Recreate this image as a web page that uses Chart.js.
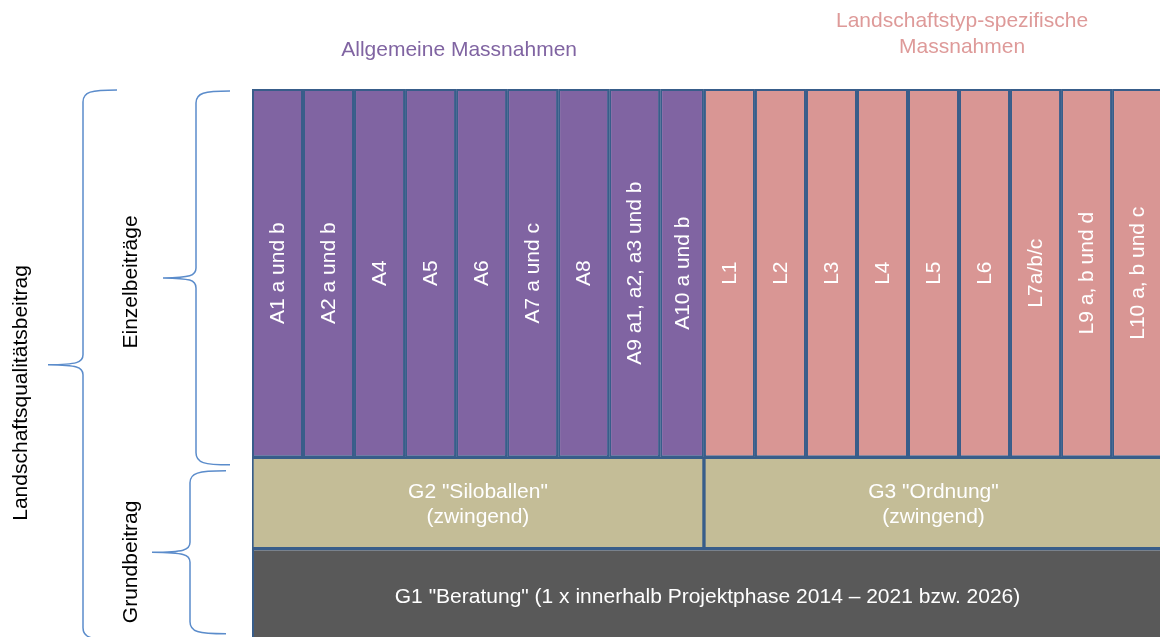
<!DOCTYPE html>
<html><head><meta charset="utf-8">
<script src="https://cdn.jsdelivr.net/npm/chart.js@4.4.1/dist/chart.umd.min.js"></script>
<style>html,body{margin:0;padding:0;background:#fff;overflow:hidden}</style>
</head><body>
<canvas id="c" width="1160" height="637"></canvas>
<script>
// ---- data (column spans in "column units", row bands in "row units") ----
const allgemeineLabels = ['A1 a und b','A2 a und b','A4','A5','A6','A7 a und c','A8','A9 a1, a2, a3 und b','A10 a und b'];
const allgemeineWidths = [1,1,1,1,1,1,1,1,0.86];
const spezifischeLabels = ['L1','L2','L3','L4','L5','L6','L7a/b/c','L9 a, b und d','L10 a, b und c'];
const spezifischeWidths = [1,1,1,1,1,1,1,1,1];
const grundLabels = ['G2 "Siloballen"\n(zwingend)', 'G3 "Ordnung"\n(zwingend)'];
const beratungLabel = 'G1 "Beratung" (1 x innerhalb Projektphase 2014 – 2021 bzw. 2026)';
const groupTitles = ['Allgemeine Massnahmen', 'Landschaftstyp-spezifische\nMassnahmen'];
const sideLabels = ['Landschaftsqualitätsbeitrag', 'Einzelbeiträge', 'Grundbeitrag'];
const bandG1 = [-0.06, 1];
const bandG2 = [1, 2];
const bandCols = [2, 6.04];

// ---- derived ----
const colLabels = allgemeineLabels.concat(spezifischeLabels);
const colWidths = allgemeineWidths.concat(spezifischeWidths);
const colSpans = [];
let acc = 0;
colWidths.forEach(w => { colSpans.push([acc, acc + w]); acc += w; });
const endA = allgemeineWidths.reduce((a, b) => a + b, 0);
const endAll = acc;
const mid = b => (b[0] + b[1]) / 2;
const span = b => b[1] - b[0];

const PURPLE = '#8064A2', PINK = '#D99694', KHAKI = '#C4BD97', GREY = '#595959', EDGE = '#385D8A';
const FONT = '21px "Liberation Sans", Arial, sans-serif';

const textPlugin = {
  id: 'texts',
  afterDatasetsDraw(chart, args, o) {
    const ctx = chart.ctx;
    const xs = chart.scales.x, ys = chart.scales.y;
    const left = chart.chartArea.left;
    ctx.save();
    ctx.font = FONT;
    ctx.textAlign = 'center';
    ctx.textBaseline = 'middle';
    // column labels
    ctx.fillStyle = '#ffffff';
    chart.getDatasetMeta(0).data.forEach((bar, i) => {
      const p = bar.getProps(['x', 'y', 'base'], true);
      ctx.save();
      ctx.translate((p.x + p.base) / 2 + 1, p.y);
      ctx.rotate(-Math.PI / 2);
      ctx.fillText(colLabels[i], 0, 0);
      ctx.restore();
    });
    const multi = (txt, cx, cy, lh) => {
      const lines = txt.split('\n');
      lines.forEach((l, k) => ctx.fillText(l, cx, cy + (k - (lines.length - 1) / 2) * lh));
    };
    chart.getDatasetMeta(1).data.forEach((bar, i) => {
      const p = bar.getProps(['x', 'y', 'base'], true);
      multi(grundLabels[i], (p.x + p.base) / 2, p.y + 2, 25);
    });
    chart.getDatasetMeta(2).data.forEach((bar) => {
      const p = bar.getProps(['x', 'y', 'base'], true);
      const cx = (Math.max(p.base, left) + xs.getPixelForValue(endAll)) / 2;
      ctx.fillText(beratungLabel, cx, p.y);
    });
    // group titles
    ctx.fillStyle = PURPLE;
    multi(groupTitles[0], xs.getPixelForValue(o.title1[0]), ys.getPixelForValue(o.title1[1]), 26);
    ctx.fillStyle = '#DE9A99';
    multi(groupTitles[1], xs.getPixelForValue(o.title2[0]), ys.getPixelForValue(o.title2[1]), 26);
    // braces
    ctx.strokeStyle = '#5B8CCB';
    ctx.lineWidth = 1.5;
    o.braces.forEach(b => {
      const xv = b.xv, xr = b.xr, xt = b.xt;
      const yT = ys.getPixelForValue(b.top), yB = ys.getPixelForValue(b.bottom);
      const yM = (yT + yB) / 2;
      ctx.beginPath();
      ctx.moveTo(xr, yT);
      ctx.bezierCurveTo(xv + 8, yT, xv, yT + 2, xv, yT + 12);
      ctx.lineTo(xv, yM - 10);
      ctx.bezierCurveTo(xv, yM - 2, xv - 6, yM - 0.5, xt, yM);
      ctx.bezierCurveTo(xv - 6, yM + 0.5, xv, yM + 2, xv, yM + 10);
      ctx.lineTo(xv, yB - 12);
      ctx.bezierCurveTo(xv, yB - 2, xv + 8, yB, xr, yB);
      ctx.stroke();
    });
    // side labels
    ctx.fillStyle = '#000000';
    o.side.forEach((s, i) => {
      ctx.save();
      ctx.translate(s[0], ys.getPixelForValue(s[1]));
      ctx.rotate(-Math.PI / 2);
      ctx.fillText(sideLabels[i], 0, 0);
      ctx.restore();
    });
    ctx.restore();
  }
};

const common = { indexAxis: 'y', grouped: false, categoryPercentage: 1, borderSkipped: false, borderWidth: 2, borderColor: EDGE };

new Chart(document.getElementById('c'), {
  type: 'bar',
  data: {
    datasets: [
      Object.assign({}, common, {
        label: 'Einzelbeiträge',
        data: colSpans.map(s => ({ x: s, y: mid(bandCols) })),
        backgroundColor: colSpans.map((s, i) => i < allgemeineLabels.length ? PURPLE : PINK),
        barPercentage: span(bandCols)
      }),
      Object.assign({}, common, {
        label: 'Grundbeitrag G2/G3',
        data: [{ x: [0, endA], y: mid(bandG2) }, { x: [endA, endAll], y: mid(bandG2) }],
        backgroundColor: KHAKI,
        barPercentage: span(bandG2)
      }),
      Object.assign({}, common, {
        label: 'Grundbeitrag G1',
        data: [{ x: [0, endAll], y: mid(bandG1) }],
        backgroundColor: GREY,
        barPercentage: span(bandG1)
      })
    ]
  },
  options: {
    indexAxis: 'y',
    responsive: false,
    devicePixelRatio: 1,
    animation: false,
    layout: { padding: { left: 252, top: 89, right: 0, bottom: 0 } },
    scales: {
      x: { type: 'linear', min: 0, max: 17.8, offset: false, display: false },
      y: { type: 'linear', min: 0.03, max: 6.04, offset: false, display: false, grid: { offset: false }, ticks: { stepSize: 1, includeBounds: false } }
    },
    plugins: {
      legend: { display: false },
      tooltip: { enabled: false },
      texts: {
        title1: [4.06, 6.468],
        title2: [13.92, 6.644],
        braces: [
          { xv: 83, xr: 117, xt: 48, top: 6.03, bottom: 0 },
          { xv: 196, xr: 230, xt: 163, top: 6.019, bottom: 1.918 },
          { xv: 190, xr: 226, xt: 152, top: 1.852, bottom: 0.065 }
        ],
        side: [[21, 2.707], [131, 3.924], [131, 0.854]]
      }
    }
  },
  plugins: [textPlugin]
});
</script>
</body></html>
